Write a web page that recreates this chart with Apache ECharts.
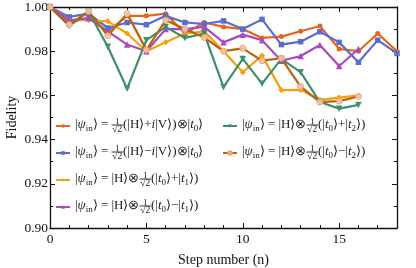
<!DOCTYPE html>
<html><head><meta charset="utf-8">
<script src="https://cdn.jsdelivr.net/npm/echarts@6/dist/echarts.min.js"></script>
<style>html,body{margin:0;padding:0;background:#fff}#c{width:416px;height:268px}</style>
</head><body><div id="c"></div>
<script>
// ---------- data ----------
const steps = [0,1,2,3,4,5,6,7,8,9,10,11,12,13,14,15,16,17,18];
const fidHVplus  = [1.000,0.993,0.995,0.989,0.996,0.996,0.997,0.988,0.993,0.991,0.990,0.986,0.9866,0.989,0.9914,0.981,0.980,0.988,0.980];
const fidHVminus = [1.000,0.9955,0.997,0.9905,0.993,0.992,0.996,0.993,0.9923,0.9937,0.990,0.9944,0.983,0.9843,0.9888,0.984,0.975,0.985,0.979];
const fidT0plusT1  = [1.000,0.994,0.994,0.9935,0.988,0.980,0.984,0.988,0.989,0.980,0.9705,0.978,0.9624,0.9625,0.958,0.959,0.960];
const fidT0minusT1 = [1.000,0.994,0.995,0.989,0.983,0.980,0.990,0.990,0.991,0.984,0.9875,0.985,0.9757,0.9778,0.9828,0.9733,0.981];
const fidT0plusT2  = [1.000,0.9914,0.998,0.982,0.963,0.985,0.991,0.986,0.988,0.9637,0.9765,0.9653,0.9765,0.9705,0.957,0.954,0.9557];
const fidT0minusT2 = [1.000,0.992,0.998,0.987,0.997,0.9806,0.994,0.990,0.9862,0.980,0.9813,0.9757,0.9768,0.964,0.957,0.9574,0.9595];
const seriesNames = ['HV+','HV-','t0+t1','t0-t1','t0+t2','t0-t2'];
// legend text: *x* italic, _x_ subscript; fraction 1/√2 sits between prefix and suffix
const legendPrefix = ['|*ψ*_in_⟩ = ','|*ψ*_in_⟩ = ','|*ψ*_in_⟩ = |H⟩⊗','|*ψ*_in_⟩ = |H⟩⊗','|*ψ*_in_⟩ = |H⟩⊗','|*ψ*_in_⟩ = |H⟩⊗'];
const legendSuffix = ['(|H⟩+*i*|V⟩)⊗|*t*_0_⟩','(|H⟩−*i*|V⟩)⊗|*t*_0_⟩','(|*t*_0_⟩+|*t*_1_⟩)','(|*t*_0_⟩−|*t*_1_⟩)','(|*t*_0_⟩+|*t*_2_⟩)','(|*t*_0_⟩−|*t*_2_⟩)'];
const yTicks = ['0.90','0.92','0.94','0.96','0.98','1.00'];
const xTicks = ['0','5','10','15'];

// ---------- styling ----------
const FONT = "'Liberation Serif','Times New Roman',serif";
const colors = ['#E8641C','#5B6DC8','#F4A012','#A64CBF','#3F8F6E','#B8640E'];
const symbols = ['circle','rect','diamond','triangle','triangle','circle'];
const symRot = [0,0,0,0,180,0];
const symSize = [5,5.5,6,6.5,6.5,6];
const allData = [fidHVplus,fidHVminus,fidT0plusT1,fidT0minusT1,fidT0plusT2,fidT0minusT2];

const ctx = document.createElement('canvas').getContext('2d');
function tw(t, size, italic){ ctx.font = (italic?'italic ':'') + size + 'px ' + FONT; return ctx.measureText(t).width; }
const MS = 13, NS = 9, DS = 9.5, SS = 9;
const SZ = {rm:MS, it:MS, sub:SS};
function parse(s){
  const out=[]; const re=/(\*[^*]+\*|_[^_]+_)/g; let last=0, m;
  while((m=re.exec(s))){ if(m.index>last) out.push({st:'rm',t:s.slice(last,m.index)});
    out.push({st: m[0][0]==='*'?'it':'sub', t:m[0].slice(1,-1)}); last=re.lastIndex; }
  if(last<s.length) out.push({st:'rm',t:s.slice(last)});
  return out;
}
function width(tok){ return tok.reduce((a,k)=>a+tw(k.t,SZ[k.st],k.st==='it'),0); }
function richStr(tok){ return tok.map(k=>'{'+k.st+'|'+k.t+'}').join(''); }
const denW = tw('√2',DS), numW = tw('1',NS), barW = denW + 1.5;
const TC = '#1a1a1a';
const rich = {
  rm:{fontFamily:FONT,fontSize:MS,lineHeight:4,color:TC},
  it:{fontFamily:FONT,fontSize:MS,fontStyle:'italic',lineHeight:4,color:TC},
  sub:{fontFamily:FONT,fontSize:SS,lineHeight:4,height:10.5,verticalAlign:'top',color:TC},
  bar:{width:barW,height:0.9,lineHeight:4,backgroundColor:'#222',fontSize:7},
  num:{fontFamily:FONT,fontSize:NS,lineHeight:3,color:TC},
  den:{fontFamily:FONT,fontSize:DS,lineHeight:5,color:TC}
};
const legendText = {};
seriesNames.forEach((nm,i)=>{
  const pre=parse(legendPrefix[i]), suf=parse(legendSuffix[i]);
  const pw=width(pre);
  rich['ga'+i]={width:pw+(barW-numW)/2,lineHeight:3,fontSize:7};
  rich['gb'+i]={width:pw+(barW-denW)/2,lineHeight:5,fontSize:7};
  legendText[nm] = '{ga'+i+'| }{num|1}\n' + richStr(pre) + '{bar| }' + richStr(suf) + '\n{gb'+i+'| }{den|√2}';
});

const series = seriesNames.map((nm,i)=>({
  type:'line', name:nm,
  data: allData[i].map((v,k)=>[steps[k],v]),
  symbol: symbols[i], symbolSize: symSize[i], symbolRotate: symRot[i],
  lineStyle:{width:2.2,color:colors[i]},
  itemStyle: i===5 ? {color:'rgba(246,205,175,0.85)',borderColor:'#E4A57A',borderWidth:1} : {color:colors[i]},
  emphasis:{disabled:true}, animation:false, z: 2+i
}));

const axisLine = {show:true,onZero:false,lineStyle:{color:'#111',width:1.3}};
const tickStyle = {color:'#111',width:1};
const legendBase = {orient:'vertical',top:117,itemGap:9.5,itemWidth:14,itemHeight:4.5,padding:0,
  selectedMode:false,formatter:n=>legendText[n],textStyle:{rich}};
const chart = echarts.init(document.getElementById('c'));
chart.setOption({
  animation:false,
  grid:{left:50,right:19,top:7,bottom:40,containLabel:false,outerBoundsMode:'none'},
  xAxis:[
    {type:'value',min:0,max:18,interval:5,position:'bottom',axisLine,
     axisTick:{inside:true,length:5,lineStyle:tickStyle},
     axisLabel:{margin:4,fontFamily:FONT,fontSize:13.5,color:'#111',showMaxLabel:false,
       formatter:v=>{const s=String(v); return xTicks.includes(s)?s:'';}},
     splitLine:{show:false},
     name:'Step number (n)',nameLocation:'middle',nameGap:25,nameMoveOverlap:false,
     nameTextStyle:{fontFamily:FONT,fontSize:14,color:'#111'}},
    {type:'value',min:0,max:18,interval:1,position:'bottom',axisLine:{show:false},
     axisTick:{inside:true,length:3,lineStyle:tickStyle},axisLabel:{show:false},splitLine:{show:false}},
    {type:'value',min:0,max:18,interval:5,position:'top',axisLine,
     axisTick:{inside:true,length:5,lineStyle:tickStyle},axisLabel:{show:false},splitLine:{show:false}},
    {type:'value',min:0,max:18,interval:1,position:'top',axisLine:{show:false},
     axisTick:{inside:true,length:3,lineStyle:tickStyle},axisLabel:{show:false},splitLine:{show:false}}
  ],
  yAxis:[
    {type:'value',min:0.9,max:1.0,interval:0.02,position:'left',axisLine,
     axisTick:{inside:true,length:5,lineStyle:tickStyle},
     minorTick:{show:true,splitNumber:2,length:3,lineStyle:tickStyle},
     axisLabel:{margin:2,fontFamily:FONT,fontSize:13.5,color:'#111',
       formatter:v=>{const s=v.toFixed(2); return yTicks.includes(s)?s:'';}},
     splitLine:{show:false},
     name:'Fidelity',nameLocation:'middle',nameGap:31,nameRotate:90,nameMoveOverlap:false,
     nameTextStyle:{fontFamily:FONT,fontSize:14,color:'#111'}},
    {type:'value',min:0.9,max:1.0,interval:0.02,position:'right',axisLine,
     axisTick:{inside:true,length:5,lineStyle:tickStyle},
     minorTick:{show:true,splitNumber:2,length:3,lineStyle:tickStyle},
     axisLabel:{show:false},splitLine:{show:false}}
  ],
  legend:[
    Object.assign({data:seriesNames.slice(0,4),left:55}, legendBase),
    Object.assign({data:seriesNames.slice(4),left:222}, legendBase)
  ],
  series
});
</script></body></html>
